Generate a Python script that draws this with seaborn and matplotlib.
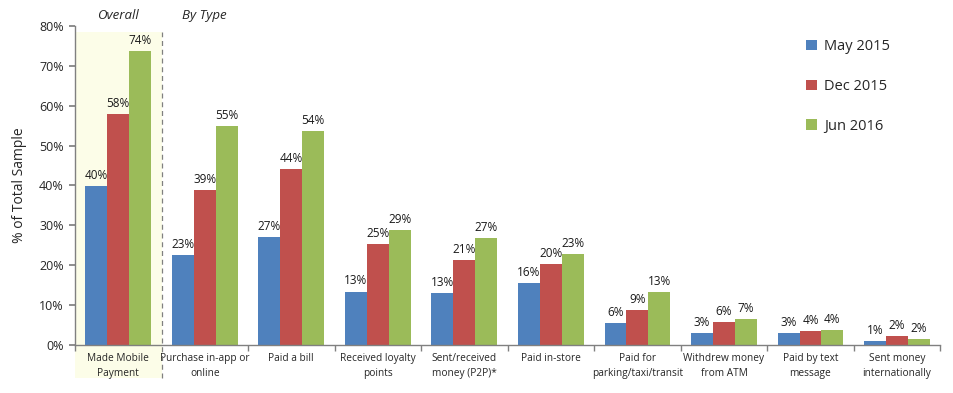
import matplotlib
matplotlib.use("Agg")
import matplotlib.pyplot as plt
import matplotlib.transforms as mtransforms
from matplotlib.patches import Rectangle
import seaborn as sns
import pandas as pd

categories = ["Made Mobile\nPayment", "Purchase in-app or\nonline", "Paid a bill",
              "Received loyalty\npoints", "Sent/received\nmoney (P2P)*", "Paid in-store",
              "Paid for\nparking/taxi/transit", "Withdrew money\nfrom ATM",
              "Paid by text\nmessage", "Sent money\ninternationally"]
series = ["May 2015", "Dec 2015", "Jun 2016"]
may_2015 = [39.8, 22.6, 27.1, 13.4, 13.0, 15.5, 5.6, 3.0, 3.0, 1.0]
dec_2015 = [57.9, 38.8, 44.1, 25.4, 21.3, 20.3, 8.8, 5.8, 3.6, 2.3]
jun_2016 = [73.7, 54.9, 53.6, 28.8, 26.8, 22.8, 13.3, 6.6, 3.8, 1.6]
yticks = [0, 10, 20, 30, 40, 50, 60, 70, 80]
colors = ["#4F81BD", "#C0504D", "#9BBB59"]

rows = []
for s, vals in zip(series, [may_2015, dec_2015, jun_2016]):
    for c, v in zip(categories, vals):
        rows.append({"cat": c, "series": s, "value": v})
df = pd.DataFrame(rows)

sns.set_theme(style="white")
plt.rcParams["font.family"] = ["Open Sans", "DejaVu Sans"]

fig = plt.figure(figsize=(9.54, 3.93), dpi=100)
ax = fig.add_axes([0.0786, 0.122, 0.907, 0.812])

# highlight for "Overall"
trans = mtransforms.blended_transform_factory(ax.transData, ax.transAxes)
ax.add_patch(Rectangle((-0.5, -0.103), 1.0, 1.084, transform=trans,
                       facecolor="#FCFDE8", edgecolor="none", clip_on=False, zorder=0))
ax.plot([0.5, 0.5], [-0.103, 0.981], transform=trans, color="#808080",
        lw=0.9, ls=(0, (4, 3)), clip_on=False, zorder=1)

sns.barplot(data=df, x="cat", y="value", hue="series", palette=colors,
            width=0.76, saturation=1, ax=ax, zorder=2, legend=True,
            linewidth=0, edgecolor="none")

for cont in ax.containers:
    labels = [f"{round(b.get_height()):d}%" for b in cont]
    ax.bar_label(cont, labels=labels, padding=3, fontsize=8.5, color="#1a1a1a")

ax.set_xlim(-0.5, 9.5)
ax.set_ylim(0, 80)
ax.set_yticks(yticks)
ax.set_yticklabels([f"{t}%" for t in yticks], fontsize=9)
ax.set_xticks(range(len(categories)))
ax.set_xticklabels(categories, fontsize=7.3, linespacing=1.45)
ax.set_xticks([i - 0.5 for i in range(len(categories) + 1) if i != 1], minor=True)
ax.tick_params(axis="x", which="major", length=0, pad=6)
ax.tick_params(axis="x", which="minor", length=4, color="#808080", direction="out", bottom=True)
ax.tick_params(axis="y", length=4, color="#808080", direction="out", left=True, pad=4)
ax.set_xlabel("")
ax.set_ylabel("% of Total Sample", fontsize=10, labelpad=9)

for s in ["top", "right"]:
    ax.spines[s].set_visible(False)
for s in ["left", "bottom"]:
    ax.spines[s].set_color("#808080")
    ax.spines[s].set_linewidth(1.0)

ax.text(0, 1.012, "Overall", transform=trans, ha="center", va="bottom",
        fontsize=9.5, style="italic")
ax.text(1.0, 1.012, "By Type", transform=trans, ha="center", va="bottom",
        fontsize=9.5, style="italic")

leg = ax.legend(title=None, loc="upper right", bbox_to_anchor=(0.957, 1.0),
                frameon=False, fontsize=10.5, handlelength=0.7, handleheight=0.7,
                labelspacing=1.7, handletextpad=0.5)

fig.savefig("out.png", dpi=100)
